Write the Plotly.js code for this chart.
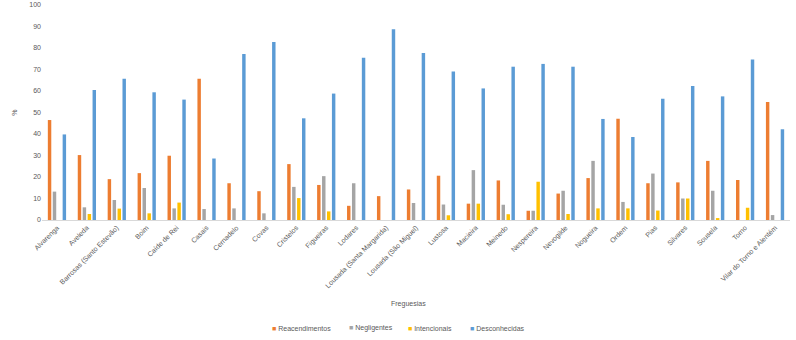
<!DOCTYPE html>
<html>
<head>
<meta charset="utf-8">
<script src="https://cdn.plot.ly/plotly-3.0.1.min.js"></script>
<style>html,body{margin:0;padding:0;background:#fff;}#chart{width:796px;height:340px;}</style>
</head>
<body>
<div id="chart"></div>
<script>
const categories = ["Alvarenga","Aveleda","Barrosas (Santo Estevão)","Boim","Caíde de Rei","Casais","Cernadelo","Covas","Cristelos","Figueiras","Lodares","Lousada (Santa Margarida)","Lousada (São Miguel)","Lustosa","Macieira","Meinedo","Nespereira","Nevogilde","Nogueira","Ordem","Pias","Silvares","Sousela","Torno","Vilar do Torno e Alentém"];
const reacendimentos = [46.5,30.2,19.0,21.8,29.9,65.7,17.1,13.4,26.0,16.3,6.6,11.1,14.2,20.6,7.6,18.4,4.3,12.3,19.5,47.1,17.1,17.5,27.5,18.6,54.9];
const negligentes    = [13.2,5.9,9.3,14.9,5.4,5.1,5.4,3.1,15.4,20.4,17.1,0,7.9,7.2,23.2,7.1,4.3,13.6,27.5,8.4,21.6,10.0,13.6,0,2.3];
const intencionais   = [0,2.8,5.3,3.1,8.1,0,0,0,10.2,4.0,0,0,0,2.2,7.6,2.7,17.8,2.8,5.4,5.4,4.4,10.0,0.9,5.7,0];
const desconhecidas  = [39.8,60.5,65.7,59.4,56.0,28.6,77.2,82.8,47.3,58.8,75.5,88.7,77.7,69.1,61.2,71.3,72.6,71.3,47.0,38.6,56.4,62.3,57.5,74.7,42.2];
const seriesNames = ["Reacendimentos","Negligentes","Intencionais","Desconhecidas"];
const seriesColors = ["#ED7D31","#A5A5A5","#FFC000","#5B9BD5"];
const seriesData = [reacendimentos, negligentes, intencionais, desconhecidas];

const traces = seriesData.map((d,i)=>({
  type:'bar', x:categories, y:d, name:seriesNames[i],
  marker:{color:seriesColors[i]}, hoverinfo:'skip'
}));

const fnt = "Liberation Sans, Arial, sans-serif";
const W = 796, H = 340, ML = 42, MR = 6, MT = 5, MB = 120;
const pw = W - ML - MR, ph = H - MT - MB;
const legendPx = [270, 347, 406, 468];
const legendAnn = seriesNames.map((n,i)=>({
  text:'<span style="color:'+seriesColors[i]+'">■</span> '+n,
  xref:'paper', yref:'paper', x:(legendPx[i]-ML)/pw, y:-(328-(H-MB))/ph,
  xanchor:'left', yanchor:'middle', showarrow:false,
  font:{size:7,color:'#595959',family:fnt}
}));
const layout = {
  width:W, height:H,
  margin:{l:ML,r:MR,t:MT,b:MB},
  paper_bgcolor:'#fff', plot_bgcolor:'#fff',
  barmode:'group', bargap:0.34, bargroupgap:0.3,
  font:{family:fnt, size:7, color:'#595959'},
  xaxis:{
    type:'category', tickangle:-45, tickfont:{size:7,color:'#595959'},
    showline:true, linecolor:'#D9D9D9', linewidth:1, ticks:'', showgrid:false,
    automargin:false
  },
  yaxis:{
    range:[0,100], dtick:10, tickfont:{size:7,color:'#595959'},
    showgrid:false, zeroline:false, showline:false, ticks:'',
    title:{text:'%', font:{size:7,color:'#595959'}, standoff:10},
    automargin:false
  },
  showlegend:false,
  annotations:[{text:'Freguesias', xref:'paper', yref:'paper', x:0.49, y:-0.39,
    xanchor:'center', yanchor:'middle', showarrow:false, font:{size:7,color:'#595959'}}].concat(legendAnn)
};
Plotly.newPlot('chart', traces, layout, {displayModeBar:false, staticPlot:true});
</script>
</body>
</html>
